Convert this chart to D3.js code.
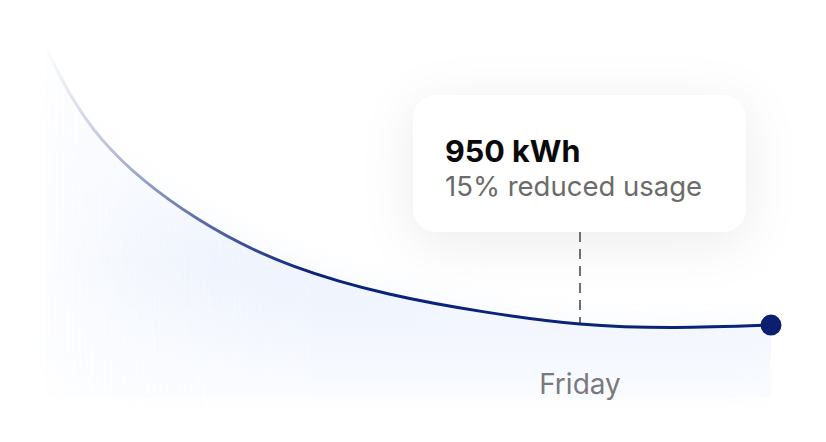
<!DOCTYPE html>
<html>
<head>
<meta charset="utf-8">
<script src="https://cdn.jsdelivr.net/npm/d3@7"></script>
<style>
  html, body { margin: 0; padding: 0; background: #ffffff; }
  svg { display: block; font-family: Inter, "Noto Sans", sans-serif; }
</style>
</head>
<body>
<svg id="chart" width="826" height="442"></svg>
<script>
// ---- data ----
const dayIndex = [1.2, 1.5, 2, 2.5, 3, 3.5, 4, 4.5, 5];
const usageKWh = [1895, 1576, 1307, 1147, 1052, 991, 950, 938, 946];
const dayLabels = ["Friday"];
const dayLabelIndex = [4];
const tooltipValue = "950 kWh";
const tooltipNote = "15% reduced usage";
const highlightIndex = 4;
const baselineKWh = 700;

// ---- scales ----
const svg = d3.select("#chart");
const x = d3.scaleLinear().domain([4, 5]).range([580, 771]);
const y = d3.scaleLinear().domain([900, 1900]).range([338.6, 45]);

const pts = dayIndex.map((d, i) => ({ d, v: usageKWh[i] }));
const defs = svg.append("defs");

// line stroke gradient (fade in from left)
const lg = defs.append("linearGradient").attr("id", "lineGrad")
  .attr("gradientUnits", "userSpaceOnUse")
  .attr("x1", x(1.2)).attr("x2", x(2.6)).attr("y1", 0).attr("y2", 0);
lg.append("stop").attr("offset", 0).attr("stop-color", "#0a2278").attr("stop-opacity", 0);
lg.append("stop").attr("offset", 0.55).attr("stop-color", "#0a2278").attr("stop-opacity", 0.62);
lg.append("stop").attr("offset", 1).attr("stop-color", "#0a2278").attr("stop-opacity", 1);

// area fill gradient
const ag = defs.append("linearGradient").attr("id", "areaGrad")
  .attr("gradientUnits", "userSpaceOnUse")
  .attr("x1", 0).attr("x2", 0).attr("y1", 60).attr("y2", y(baselineKWh));
ag.append("stop").attr("offset", 0).attr("stop-color", "#f6f8fe");
ag.append("stop").attr("offset", 0.6).attr("stop-color", "#ebf1fd");
ag.append("stop").attr("offset", 1).attr("stop-color", "#f9fbff");

// horizontal fade mask for area
const mg = defs.append("linearGradient").attr("id", "maskGrad")
  .attr("gradientUnits", "userSpaceOnUse")
  .attr("x1", x(1.2)).attr("x2", x(2.6)).attr("y1", 0).attr("y2", 0);
mg.append("stop").attr("offset", 0).attr("stop-color", "#fff").attr("stop-opacity", 0.15);
mg.append("stop").attr("offset", 1).attr("stop-color", "#fff").attr("stop-opacity", 1);
defs.append("mask").attr("id", "areaMask")
  .attr("maskUnits", "userSpaceOnUse").attr("x", 0).attr("y", 0).attr("width", 826).attr("height", 442)
  .append("rect").attr("x", 0).attr("y", 0).attr("width", 826).attr("height", 442).attr("fill", "url(#maskGrad)");

// blur filter for area glow
const fb = defs.append("filter").attr("id", "glow")
  .attr("filterUnits", "userSpaceOnUse")
  .attr("x", 0).attr("y", 0).attr("width", x(5)).attr("height", 407);
fb.append("feGaussianBlur").attr("stdDeviation", 18);

// tooltip shadow
const fs = defs.append("filter").attr("id", "shadow")
  .attr("x", "-40%").attr("y", "-70%").attr("width", "180%").attr("height", "260%");
fs.append("feDropShadow").attr("dx", 0).attr("dy", 10).attr("stdDeviation", 26)
  .attr("flood-color", "#000").attr("flood-opacity", 0.08);

// clip for sharp area
defs.append("clipPath").attr("id", "areaClip")
  .append("rect").attr("x", 0).attr("y", 0).attr("width", x(5)).attr("height", y(baselineKWh));

const area = d3.area().x(p => x(p.d)).y0(y(baselineKWh)).y1(p => y(p.v)).curve(d3.curveNatural);
const line = d3.line().x(p => x(p.d)).y(p => y(p.v)).curve(d3.curveNatural);

// glow area
svg.append("path").datum(pts).attr("d", area)
  .attr("fill", "url(#areaGrad)").attr("mask", "url(#areaMask)")
  .attr("filter", "url(#glow)").attr("opacity", 0.7);
// sharp area
svg.append("g").attr("clip-path", "url(#areaClip)")
  .append("path").datum(pts).attr("d", area)
  .attr("fill", "url(#areaGrad)").attr("mask", "url(#areaMask)").attr("opacity", 0.8);

// tooltip box
const tip = svg.append("g");
tip.append("rect").attr("x", 413).attr("y", 95).attr("width", 333).attr("height", 137)
  .attr("rx", 24).attr("fill", "#ffffff").attr("filter", "url(#shadow)");

// dashed guide
const hp = pts.find(p => p.d === highlightIndex);
svg.append("line")
  .attr("x1", x(hp.d)).attr("x2", x(hp.d))
  .attr("y1", 232).attr("y2", y(hp.v))
  .attr("stroke", "#6f6f6f").attr("stroke-width", 2).attr("stroke-dasharray", "10,7");

// line
svg.append("path").datum(pts).attr("d", line)
  .attr("fill", "none").attr("stroke", "url(#lineGrad)").attr("stroke-width", 3)
  .attr("stroke-linecap", "round");

// end dot
const last = pts[pts.length - 1];
svg.append("circle").attr("cx", x(last.d)).attr("cy", y(last.v)).attr("r", 10.5).attr("fill", "#0b1f6e");

// tooltip text
tip.append("text").attr("x", 445).attr("y", 162)
  .attr("font-size", 30.5).attr("font-weight", 700).attr("fill", "#0a0a0a").text(tooltipValue);
tip.append("text").attr("x", 445).attr("y", 196)
  .attr("font-size", 27.5).attr("font-weight", 400).attr("fill", "#6b6b6b").text(tooltipNote);

// x label
svg.selectAll("text.xl").data(dayLabels).join("text").attr("class", "xl")
  .attr("x", (d, i) => x(dayLabelIndex[i])).attr("y", 394)
  .attr("text-anchor", "middle").attr("font-size", 28).attr("fill", "#7a7a7a").text(d => d);
</script>
</body>
</html>
